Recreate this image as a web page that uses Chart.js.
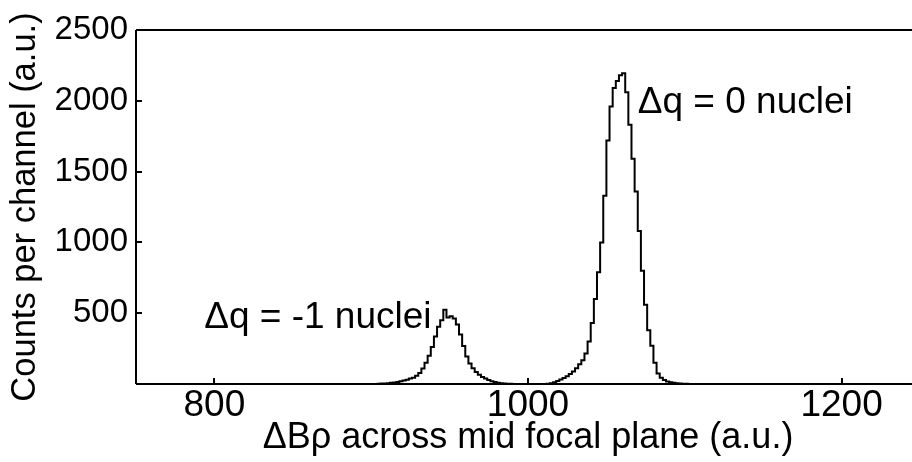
<!DOCTYPE html>
<html>
<head>
<meta charset="utf-8">
<script src="https://cdn.jsdelivr.net/npm/chart.js@4/dist/chart.umd.min.js"></script>
<style>
  html, body { margin: 0; padding: 0; background: #fff; overflow: hidden; }
  #wrap { width: 920px; height: 462px; }
</style>
</head>
<body>
<div id="wrap"><canvas id="c" width="920" height="462"></canvas></div>
<script>
// Spectrum: counts per channel, channels 2 units wide, first channel centred at 901
const channelStart = 901;
const channelWidth = 2;
const counts = [
  0, 0, 2, 3, 4, 6, 8, 11, 15, 20,
  25, 30, 38, 45, 58, 78, 110, 150, 200, 262,
  335, 405, 450, 525, 470, 478, 462, 420, 350, 268,
  195, 145, 112, 85, 65, 50, 38, 28, 20, 14,
  9, 6, 3, 2, 1, 0, 0, 0, 0, 0,
  0, 0, 0, 0, 0, 0, 2, 6, 12, 22,
  32, 42, 55, 70, 88, 112, 140, 168, 215, 300,
  430, 600, 790, 1000, 1330, 1720, 1960, 2090, 2140, 2180,
  2195, 2060, 1830, 1590, 1360, 1080, 800, 560, 380, 270,
  150, 75, 45, 28, 18, 12, 8, 5, 3, 2,
  1, 0, 0
];

const xRange = [750, 1250];
const yRange = [0, 2500];
const xTickValues = [800, 1000, 1200];
const yTickValues = [500, 1000, 1500, 2000, 2500];

const xTitle = 'ΔBρ across mid focal plane (a.u.)';
const yTitle = 'Counts per channel (a.u.)';

// Peak labels, anchored in data coordinates (left edge, baseline)
const peakLabels = [
  { text: 'Δq = 0 nuclei',  x: 1070, y: 1914 },
  { text: 'Δq = -1 nuclei', x: 793.5, y: 397 }
];

const FONT = "'Liberation Sans', Arial, Helvetica, sans-serif";

const points = counts.map((v, i) => ({ x: channelStart + i * channelWidth, y: v }));

// Frame, inward tick marks and peak labels
const framePlugin = {
  id: 'frame',
  afterDatasetsDraw(chart) {
    const { ctx, chartArea: a, scales: { x, y } } = chart;
    ctx.save();
    ctx.strokeStyle = '#000';
    ctx.lineWidth = 2;
    ctx.beginPath();
    ctx.moveTo(a.left, a.top); ctx.lineTo(a.right, a.top);
    ctx.moveTo(a.left, a.top); ctx.lineTo(a.left, a.bottom);
    ctx.moveTo(a.left, a.bottom); ctx.lineTo(a.right, a.bottom);
    ctx.moveTo(a.right, a.top); ctx.lineTo(a.right, a.bottom);
    const tl = 6;
    xTickValues.forEach(v => {
      const px = Math.round(x.getPixelForValue(v));
      ctx.moveTo(px, a.bottom); ctx.lineTo(px, a.bottom - tl);
    });
    yTickValues.forEach(v => {
      const py = Math.round(y.getPixelForValue(v));
      ctx.moveTo(a.left, py); ctx.lineTo(a.left + tl, py);
    });
    ctx.stroke();

    ctx.fillStyle = '#000';
    ctx.font = '37px ' + FONT;
    ctx.textAlign = 'left';
    ctx.textBaseline = 'alphabetic';
    peakLabels.forEach(l => {
      ctx.fillText(l.text, x.getPixelForValue(l.x), y.getPixelForValue(l.y));
    });
    ctx.restore();
  }
};

new Chart(document.getElementById('c'), {
  type: 'line',
  data: {
    datasets: [{
      data: points,
      stepped: 'middle',
      borderColor: '#000',
      borderWidth: 2,
      pointRadius: 0,
      fill: false
    }]
  },
  options: {
    responsive: false,
    animation: false,
    devicePixelRatio: 1,
    layout: { padding: { top: 30, left: 0, right: 0, bottom: 0 } },
    plugins: { legend: { display: false }, tooltip: { enabled: false } },
    scales: {
      x: {
        type: 'linear',
        min: xRange[0],
        max: xRange[1],
        afterBuildTicks: s => { s.ticks = xTickValues.map(v => ({ value: v })); },
        afterFit: s => { s.height = 78; },
        grid: { display: false, drawTicks: false },
        border: { display: false },
        ticks: { color: '#000', font: { family: FONT, size: 37 }, padding: 0, maxRotation: 0,
                 callback: v => String(v) },
        title: { display: true, text: xTitle, color: '#000', font: { family: FONT, size: 36 }, padding: { top: 0, bottom: 2 } }
      },
      y: {
        type: 'linear',
        min: yRange[0],
        max: yRange[1],
        afterBuildTicks: s => { s.ticks = yTickValues.map(v => ({ value: v })); },
        afterFit: s => { s.width = 136; },
        grid: { display: false, drawTicks: false },
        border: { display: false },
        ticks: { color: '#000', font: { family: FONT, size: 33 }, padding: 8,
                 callback: v => String(v) },
        title: { display: true, text: yTitle, color: '#000', font: { family: FONT, size: 34.5 }, padding: { top: 5, bottom: 0 } }
      }
    }
  },
  plugins: [framePlugin]
});
</script>
</body>
</html>
